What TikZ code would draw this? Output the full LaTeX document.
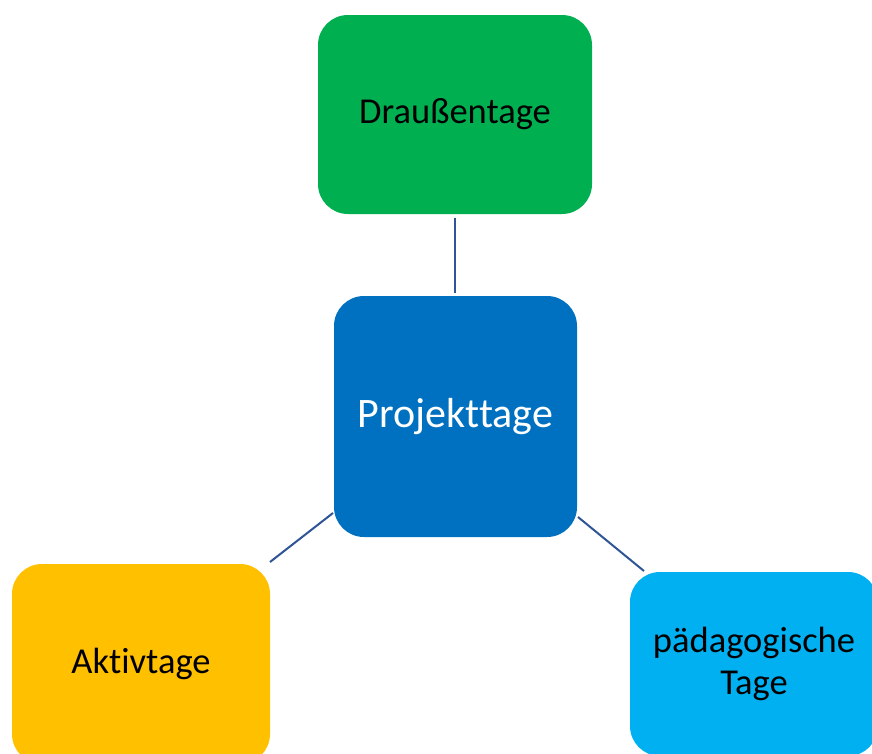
\documentclass[tikz,border=0pt]{standalone}
\usepackage{fontspec}
\setmainfont{Carlito}[Ligatures={NoCommon}]
\definecolor{draussen}{RGB}{0,176,80}
\definecolor{projekt}{RGB}{0,112,192}
\definecolor{aktiv}{RGB}{255,192,0}
\definecolor{paed}{RGB}{0,176,240}
\definecolor{linie}{RGB}{47,85,151}
\tikzset{
    tagbox/.style={rectangle,rounded corners=30pt,inner sep=0pt,align=center,
        font=\fontsize{36.5}{42}\selectfont},
    verbind/.style={draw=linie,line width=2pt},
}

\begin{document}
\begin{tikzpicture}[x=1pt,y=-1pt]
            \useasboundingbox (0,0) rectangle (872,753);
            \node[tagbox,fill=draussen,minimum width=274pt,minimum height=199pt] (draussen) at (455,114.5) {Draußentage};
            \node[tagbox,fill=projekt,text=white,font=\fontsize{42}{48}\selectfont,minimum width=243pt,minimum height=241pt] (projekt) at (455.5,416.5) {Projekttage};
            \node[tagbox,fill=aktiv,minimum width=258pt,minimum height=200pt] (aktiv) at (141,664) {Aktivtage};
            \node[tagbox,fill=paed,minimum width=248pt,minimum height=184pt] (paed) at (754,664) {pädagogische\\Tage};
            \coordinate (d1) at (455,218);
            \coordinate (d2) at (455,293);
            \coordinate (a1) at (333,513);
            \coordinate (a2) at (270,562);
            \coordinate (p1) at (578,517);
            \coordinate (p2) at (644,571);
            \draw[verbind] (d1) -- (d2);
            \draw[verbind] (a1) -- (a2);
            \draw[verbind] (p1) -- (p2);
        \end{tikzpicture}
\end{document}
